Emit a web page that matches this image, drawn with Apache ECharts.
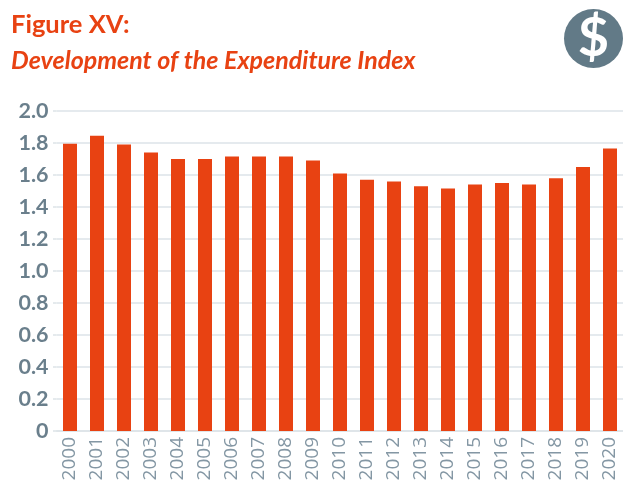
<!DOCTYPE html>
<html><head><meta charset="utf-8">
<style>html,body{margin:0;padding:0;background:#fff}#c{width:623px;height:480px}</style>
<script src="https://cdn.jsdelivr.net/npm/echarts@6/dist/echarts.min.js"></script>
</head><body><div id="c"></div>
<script>
const years=["2000","2001","2002","2003","2004","2005","2006","2007","2008","2009","2010","2011","2012","2013","2014","2015","2016","2017","2018","2019","2020"];
const indexValues=[1.795,1.845,1.79,1.74,1.70,1.70,1.715,1.715,1.715,1.69,1.61,1.57,1.56,1.53,1.515,1.54,1.55,1.54,1.58,1.65,1.765];
const titleMain="Figure XV:";
const titleSub="Development of the Expenditure Index";
const chart=echarts.init(document.getElementById('c'),null,{renderer:'canvas'});
const grey='#6a7f8c', line='#dde3e8', red='#e84212';
chart.setOption({
 animation:false,
 backgroundColor:'#fff',
 title:[
  {text:titleMain,left:11,top:12,padding:0,textStyle:{color:red,fontFamily:'Lato',fontSize:25.5,fontWeight:'bold'}},
  {text:titleSub,left:11,top:48,padding:0,textStyle:{color:red,fontFamily:'Lato',fontSize:25,fontWeight:'bold',fontStyle:'italic'}}
 ],
 grid:{left:56.5,top:111,width:567,height:320,containLabel:false,outerBoundsMode:'none'},
 xAxis:{type:'category',data:years,
  axisLine:{show:true,lineStyle:{color:line,width:1.5}},axisTick:{show:false},
  axisLabel:{interval:0,rotate:90,color:'#8497a4',fontFamily:'Open Sans',fontSize:19,margin:6}},
 yAxis:{type:'value',min:0,max:2,interval:0.2,
  axisLine:{show:false},
  axisTick:{show:true,length:3.5,lineStyle:{color:line,width:1.5}},
  splitLine:{show:true,lineStyle:{color:line,width:1.5}},
  axisLabel:{color:grey,fontFamily:'Lato',fontWeight:'bold',fontSize:21.5,margin:8,padding:[3,0,0,0],
   formatter:v=>v===0?'0':v.toFixed(1)}},
 series:[{type:'bar',data:indexValues,barWidth:14,itemStyle:{color:red}}],
 graphic:[
  {type:'circle',shape:{cx:593.5,cy:38.5,r:29.5},style:{fill:'#627a87'}},
  {type:'text',x:593.5,y:39,style:{text:'$',fill:'#fff',fontFamily:'Lato',fontWeight:'bold',fontSize:54,align:'center',verticalAlign:'middle'}}
 ]
});
</script></body></html>
